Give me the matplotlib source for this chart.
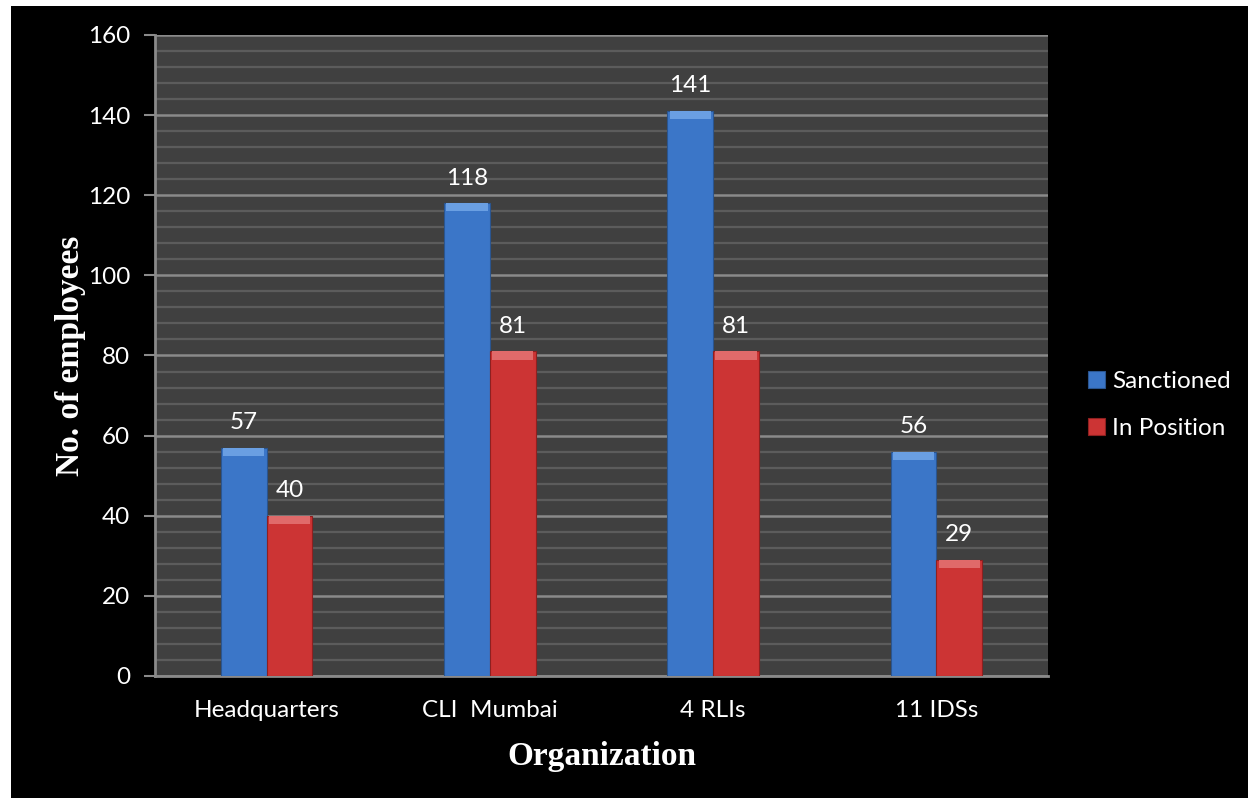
import matplotlib.pyplot as plt
from matplotlib.patches import Rectangle
from matplotlib.ticker import MultipleLocator

plt.rcParams['font.family'] = ['Lato', 'DejaVu Sans']

organizations = ['Headquarters', 'CLI  Mumbai', '4 RLIs', '11 IDSs']
sanctioned = [57, 118, 141, 56]
in_position = [40, 81, 81, 29]

blue = '#3B76C8'
red = '#CC3434'

fig = plt.figure(figsize=(12.48, 7.98), dpi=100, facecolor='black')
# thin white border at top and left, like the screenshot
fig.patches.append(Rectangle((0, 1 - 6 / 798), 1, 6 / 798, transform=fig.transFigure,
                             facecolor='white', edgecolor='none', zorder=-1))
fig.patches.append(Rectangle((0, 0), 11 / 1248, 1, transform=fig.transFigure,
                             facecolor='white', edgecolor='none', zorder=-1))

ax = fig.add_axes([155 / 1248, 1 - 676 / 798, (1048 - 155) / 1248, (676 - 35) / 798])
ax.set_facecolor('#404040')

x = list(range(len(organizations)))
w = 0.205
b1 = ax.bar([i - w / 2 for i in x], sanctioned, w, color=blue, edgecolor='#2a5590',
            linewidth=0.8, label='Sanctioned', zorder=3)
b2 = ax.bar([i + w / 2 for i in x], in_position, w, color=red, edgecolor='#8e2020',
            linewidth=0.8, label='In Position', zorder=3)

# lighter bevel on top of each bar
cap = 2.0
ax.bar([i - w / 2 for i in x], cap, w * 0.9, bottom=[v - cap for v in sanctioned],
       color='#6a9fe2', linewidth=0, zorder=4)
ax.bar([i + w / 2 for i in x], cap, w * 0.9, bottom=[v - cap for v in in_position],
       color='#e06a6a', linewidth=0, zorder=4)

for bars in (b1, b2):
    for r in bars:
        ax.annotate(str(int(r.get_height())), (r.get_x() + r.get_width() / 2, r.get_height()),
                    xytext=(0, 13.5), textcoords='offset points', ha='center', va='baseline',
                    color='white', fontsize=17.5)

ax.set_xlim(-0.5, 3.5)
ax.set_ylim(0, 160)
ax.yaxis.set_major_locator(MultipleLocator(20))
ax.yaxis.set_minor_locator(MultipleLocator(4))
ax.grid(which='major', axis='y', color='#8a8a8a', linewidth=1.8, zorder=1)
ax.grid(which='minor', axis='y', color='#5c5c5c', linewidth=1.6, zorder=1)
ax.set_axisbelow(True)

ax.set_xticks(x)
ax.set_xticklabels(organizations)
ax.tick_params(axis='x', length=0, pad=17, colors='white', labelsize=17.5)
ax.tick_params(axis='y', which='major', length=8, width=1.5, color='#8a8a8a',
               pad=10, labelcolor='white', labelsize=17.5)
ax.tick_params(axis='y', which='minor', length=0)

for s in ('top', 'right'):
    ax.spines[s].set_visible(False)
for s in ('left', 'bottom'):
    ax.spines[s].set_color('#8a8a8a')
    ax.spines[s].set_linewidth(2)

ax.set_ylabel('No. of employees', family=['Liberation Serif', 'DejaVu Serif'],
              fontweight='bold', fontsize=24, color='white', va='baseline')
ax.yaxis.set_label_coords(-0.085, 0.5)
ax.set_xlabel('Organization', family=['Liberation Serif', 'DejaVu Serif'],
              fontweight='bold', fontsize=24, color='white', va='baseline')
ax.xaxis.set_label_coords(0.5, -0.139)

leg = fig.legend(handles=[b1, b2], loc='center left',
                 bbox_to_anchor=(1066 / 1248, 1 - 405 / 798), frameon=False,
                 fontsize=17.5, labelcolor='white', handlelength=0.7, handleheight=0.7,
                 handletextpad=0.3, labelspacing=1.05)

fig.savefig('out.png', dpi=100, facecolor=fig.get_facecolor())
